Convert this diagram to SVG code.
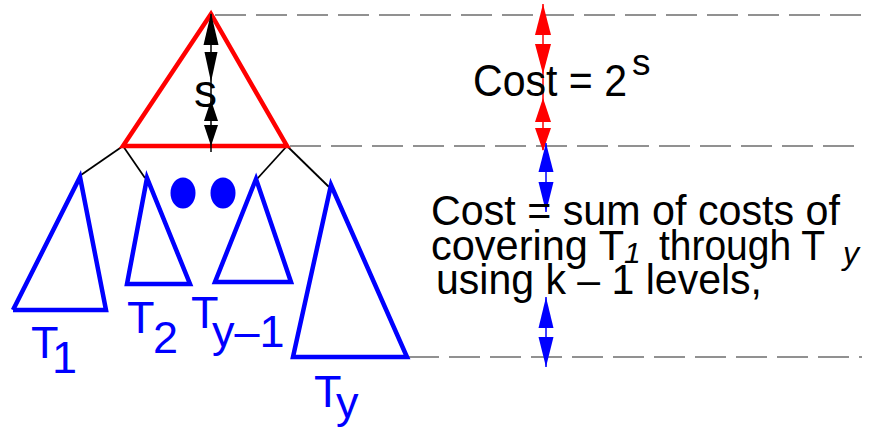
<svg xmlns="http://www.w3.org/2000/svg" width="869" height="429" viewBox="0 0 869 429">
<style>
.dash{stroke:#6e6e6e;stroke-width:1.6;stroke-dasharray:31 10;fill:none}
.edge{stroke:#000;stroke-width:1.8;fill:none}
.tri{fill:none;stroke:#0000ff;stroke-width:4.5;stroke-linejoin:miter}
.lbl{font-family:"Liberation Sans",Arial,sans-serif;font-size:45px;fill:#0000ff}
.txt{font-family:"Liberation Sans",Arial,sans-serif;fill:#000}
.it{font-style:italic}
</style>
<rect width="869" height="429" fill="#fff"/>
<g id="levels">
<line class="dash" x1="215" y1="15" x2="862" y2="15"/>
<line class="dash" x1="290" y1="146" x2="862" y2="146"/>
<line class="dash" x1="408" y1="357" x2="862" y2="357"/>
</g>
<g id="connectors">
<line class="edge" x1="123" y1="146" x2="81" y2="175"/>
<line class="edge" x1="123" y1="146" x2="145" y2="178"/>
<line class="edge" x1="287" y1="146" x2="257" y2="179"/>
<line class="edge" x1="287" y1="146" x2="329" y2="187"/>
</g>
<g id="root">
<polygon points="211,14 123,146 287,146" fill="none" stroke="#ff0000" stroke-width="4.5" stroke-linejoin="miter"/>
<line x1="211" y1="14" x2="211" y2="152" stroke="#000" stroke-width="1.5"/>
<polygon points="211,13 203.5,45 218.5,45" fill="#000"/>
<polygon points="211,82 204.5,52 217.5,52" fill="#000"/>
<polygon points="211,100 204,121 218,121" fill="#000"/>
<polygon points="211,146 204,125 218,125" fill="#000"/>
<text class="txt" x="194" y="107" font-size="46">s</text>
</g>
<g id="T1">
<polyline class="tri" points="13,310 106,310 80,177 13,310"/>
<text class="lbl" x="31" y="358">T</text>
<text class="lbl" x="52" y="373">1</text>
</g>
<g id="T2">
<polygon class="tri" points="147,178 127,284 190,284"/>
<text class="lbl" x="127" y="333">T</text>
<text class="lbl" x="153" y="353">2</text>
</g>
<g id="dots">
<ellipse cx="183" cy="193" rx="12.5" ry="15.5" fill="#0000ff"/>
<ellipse cx="223" cy="193" rx="12.5" ry="15.5" fill="#0000ff"/>
</g>
<g id="Ty-1">
<polygon class="tri" points="256,179 215,282 291,282"/>
<text class="lbl" x="191" y="328">T</text>
<text class="lbl" x="212" y="347">y–1</text>
</g>
<g id="Ty">
<polygon class="tri" points="331,185 293,357 407,357"/>
<text class="lbl" x="314" y="407">T</text>
<text class="lbl" x="336" y="418">y</text>
</g>
<g id="measures">
<line x1="543" y1="4" x2="543" y2="150" stroke="#ff0000" stroke-width="1.5"/>
<polygon points="543,4 535,35 551,35" fill="#ff0000"/>
<polygon points="543,74 535,44 551,44" fill="#ff0000"/>
<polygon points="543,98 535,122 551,122" fill="#ff0000"/>
<polygon points="543,151 535,128 551,128" fill="#ff0000"/>
<line x1="546" y1="143" x2="546" y2="212" stroke="#0000ff" stroke-width="1.5"/>
<polygon points="546,143 538.5,172 553.5,172" fill="#0000ff"/>
<polygon points="546,212 538.5,182 553.5,182" fill="#0000ff"/>
<line x1="546" y1="297" x2="546" y2="367" stroke="#0000ff" stroke-width="1.5"/>
<polygon points="546,297 538.5,328 553.5,328" fill="#0000ff"/>
<polygon points="546,367 538.5,337 553.5,337" fill="#0000ff"/>
</g>
<g id="cost-root">
<text class="txt" x="473" y="96" font-size="44" textLength="154" lengthAdjust="spacingAndGlyphs">Cost = 2</text>
<text class="txt" x="632" y="75" font-size="37">s</text>
</g>
<g id="cost-subtrees">
<text class="txt" x="431" y="225" font-size="42" textLength="409" lengthAdjust="spacingAndGlyphs">Cost = sum of costs of</text>
<text class="txt" x="431" y="260" font-size="42" textLength="193" lengthAdjust="spacingAndGlyphs">covering T</text>
<text class="txt it" x="624" y="263" font-size="30">1</text>
<text class="txt" x="659" y="260" font-size="42" textLength="166" lengthAdjust="spacingAndGlyphs">through T</text>
<text class="txt it" x="843" y="264" font-size="32">y</text>
<text class="txt" x="436" y="294" font-size="42" textLength="326" lengthAdjust="spacingAndGlyphs">using k – 1 levels,</text>
</g>
</svg>
